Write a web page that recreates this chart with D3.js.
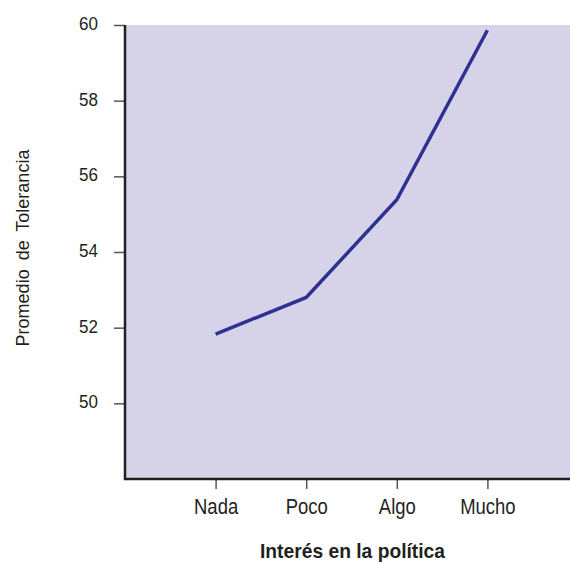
<!DOCTYPE html>
<html><head><meta charset="utf-8">
<script src="https://cdn.jsdelivr.net/npm/d3@7"></script>
<style>body{margin:0;background:#fff}svg{display:block}</style>
</head><body>
<svg id="c" width="570" height="563"></svg>
<script>
const categories = ["Nada", "Poco", "Algo", "Mucho"];
const values = [51.83, 52.8, 55.38, 59.86];
const yTicks = [50, 52, 54, 56, 58, 60];
const xTitle = "Interés en la política";
const yTitle = "Promedio de Tolerancia";

const svg = d3.select("#c");
const L = 125, R = 578, T = 25, B = 479;
const x = d3.scalePoint().domain(categories).range([L, R]).padding(1);
const y = d3.scaleLinear().domain([48, 60]).range([B, T]);
const font = "'Liberation Sans',Arial,sans-serif";

svg.append("rect").attr("x", L).attr("y", T).attr("width", 600 - L).attr("height", B - T).attr("fill", "#d6d3e9");

const gy = svg.append("g").attr("transform", `translate(${L},0)`)
  .call(d3.axisLeft(y).tickValues(yTicks).tickSize(11).tickPadding(16).tickFormat(d3.format("d")));
gy.select(".domain").remove();
gy.selectAll(".tick line").attr("stroke", "#555").attr("stroke-width", 1.5);
gy.selectAll(".tick text").attr("font-family", font).attr("font-size", 18.5).attr("fill", "#231f20")
  .attr("dy", "0.25em").attr("x", -27 / 0.92).attr("transform", "scale(0.92,1)");

const gx = svg.append("g").attr("transform", `translate(0,${B})`)
  .call(d3.axisBottom(x).tickSize(10).tickPadding(10));
gx.select(".domain").remove();
gx.selectAll(".tick line").attr("stroke", "#555").attr("stroke-width", 1.5);
gx.selectAll(".tick text").attr("font-family", font).attr("font-size", 21.5).attr("fill", "#231f20")
  .attr("transform", "scale(0.86,1)");

svg.append("path").attr("d", `M${L},${T}V${B}H600`).attr("fill", "none").attr("stroke", "#231f20").attr("stroke-width", 2.5);

svg.append("path").datum(values)
  .attr("d", d3.line().x((d, i) => x(categories[i])).y(d => y(d)))
  .attr("fill", "none").attr("stroke", "#2e3192").attr("stroke-width", 3.5);

svg.append("text").attr("x", 260).attr("y", 558)
  .attr("textLength", 185).attr("lengthAdjust", "spacingAndGlyphs")
  .attr("font-family", font).attr("font-weight", "bold").attr("font-size", 20.5).attr("fill", "#231f20").text(xTitle);

svg.append("text").attr("transform", "translate(29,248) rotate(-90)").attr("text-anchor", "middle")
  .attr("word-spacing", 4)
  .attr("font-family", font).attr("font-size", 18).attr("fill", "#231f20").text(yTitle);
</script>
</body></html>
